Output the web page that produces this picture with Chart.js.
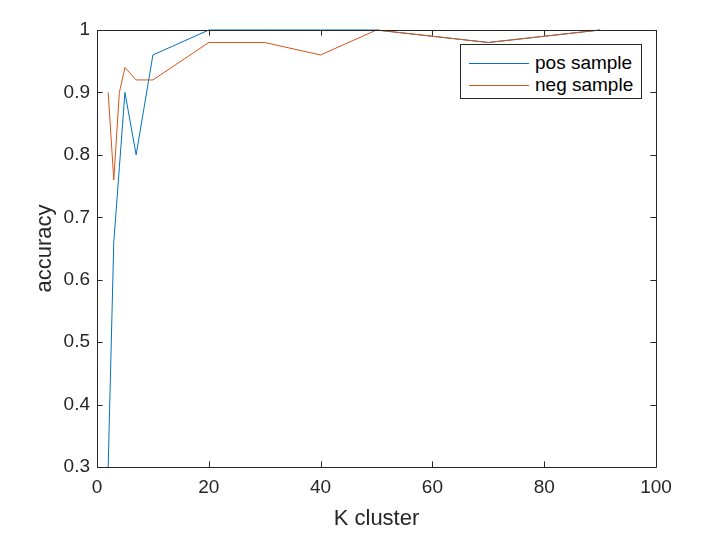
<!DOCTYPE html>
<html>
<head>
<meta charset="utf-8">
<script src="https://cdn.jsdelivr.net/npm/chart.js@4/dist/chart.umd.min.js"></script>
<style>
  body { margin: 0; background: #fff; }
  #wrap { position: relative; width: 716px; height: 552px; }
  #legend {
    position: absolute; left: 460px; top: 44px; width: 180px; height: 53px;
    border: 1px solid #262626; background: #fff;
    font-family: "Liberation Sans", Arial, Helvetica, sans-serif; font-size: 19px; color: #000;
  }
  .item { position: absolute; left: 8px; height: 22px; display: flex; align-items: center; }
  .item .swatch { width: 60px; height: 0; border-top: 1px solid; margin-right: 6px; }
</style>
</head>
<body>
<div id="wrap">
  <canvas id="chart" width="716" height="552"></canvas>
  <div id="legend"></div>
</div>
<script>
// data
const kValues = [2, 3, 4, 5, 7, 10, 20, 30, 40, 50, 70, 90];
const posAccuracy = [0.30, 0.66, 0.78, 0.90, 0.80, 0.96, 1.0, 1.0, 1.0, 1.0, 0.98, 1.0];
const negAccuracy = [0.90, 0.76, 0.90, 0.94, 0.92, 0.92, 0.98, 0.98, 0.96, 1.0, 0.98, 1.0];
const seriesNames = ["pos sample", "neg sample"];
const xTicks = [0, 20, 40, 60, 80, 100];
const yTicks = [0.3, 0.4, 0.5, 0.6, 0.7, 0.8, 0.9, 1];

const colors = ["#0072BD", "#D95319"];
const axisColor = "#262626";
const fontFamily = '"Liberation Sans", Arial, Helvetica, sans-serif';

const toPoints = (xs, ys) => xs.map((x, i) => ({ x, y: ys[i] }));

// inward ticks on all four sides + box, matlab style
const boxTicks = {
  id: "boxTicks",
  afterDatasetsDraw(chart) {
    const { ctx, chartArea: a, scales: { x, y } } = chart;
    const len = 5.6;
    ctx.save();
    ctx.strokeStyle = axisColor;
    ctx.lineWidth = 1;
    ctx.beginPath();
    ctx.rect(Math.round(a.left) + 0.5, Math.round(a.top) + 0.5,
             Math.round(a.right - a.left), Math.round(a.bottom - a.top));
    xTicks.forEach(v => {
      const px = Math.round(x.getPixelForValue(v)) + 0.5;
      ctx.moveTo(px, a.bottom); ctx.lineTo(px, a.bottom - len);
      ctx.moveTo(px, a.top); ctx.lineTo(px, a.top + len);
    });
    yTicks.forEach(v => {
      const py = Math.round(y.getPixelForValue(v)) + 0.5;
      ctx.moveTo(a.left, py); ctx.lineTo(a.left + len, py);
      ctx.moveTo(a.right, py); ctx.lineTo(a.right - len, py);
    });
    ctx.stroke();
    ctx.restore();
  }
};

const chart = new Chart(document.getElementById("chart"), {
  type: "scatter",
  data: {
    datasets: [
      { label: seriesNames[0], data: toPoints(kValues, posAccuracy), order: 1 },
      { label: seriesNames[1], data: toPoints(kValues, negAccuracy), order: 0 }
    ].map((d, i) => Object.assign(d, {
      showLine: true, borderColor: colors[i], backgroundColor: colors[i],
      borderWidth: 1, pointRadius: 0, tension: 0, clip: false
    }))
  },
  options: {
    responsive: false,
    animation: false,
    layout: { padding: { top: 30, right: 60, left: 0, bottom: 0 } },
    plugins: { legend: { display: false }, tooltip: { enabled: false } },
    scales: {
      x: {
        type: "linear", min: 0, max: 100,
        afterBuildTicks: s => { s.ticks = xTicks.map(v => ({ value: v })); },
        afterFit: s => { s.height = 85; },
        grid: { display: false, drawTicks: false },
        border: { display: false },
        ticks: { color: axisColor, padding: 9, font: { family: fontFamily, size: 19 } },
        title: { display: true, text: "K cluster", color: axisColor,
                 font: { family: fontFamily, size: 22 }, padding: { top: 4, bottom: 20 } }
      },
      y: {
        type: "linear", min: 0.3, max: 1,
        afterBuildTicks: s => { s.ticks = yTicks.map(v => ({ value: v })); },
        afterFit: s => { s.width = 97; },
        grid: { display: false, drawTicks: false },
        border: { display: false },
        ticks: { color: axisColor, padding: 7, font: { family: fontFamily, size: 19 },
                 callback: v => String(Number(v.toFixed(1))) },
        title: { display: true, text: "accuracy", color: axisColor,
                 font: { family: fontFamily, size: 22 }, padding: { top: 32, bottom: 0 } }
      }
    }
  },
  plugins: [boxTicks]
});

// legend box inside the axes
const legend = document.getElementById("legend");
chart.data.datasets.forEach((d, i) => {
  const row = document.createElement("div");
  row.className = "item";
  row.style.top = (7 + i * 22) + "px";
  row.innerHTML = `<span class="swatch" style="border-color:${d.borderColor}"></span><span>${d.label}</span>`;
  legend.appendChild(row);
});
</script>
</body>
</html>
